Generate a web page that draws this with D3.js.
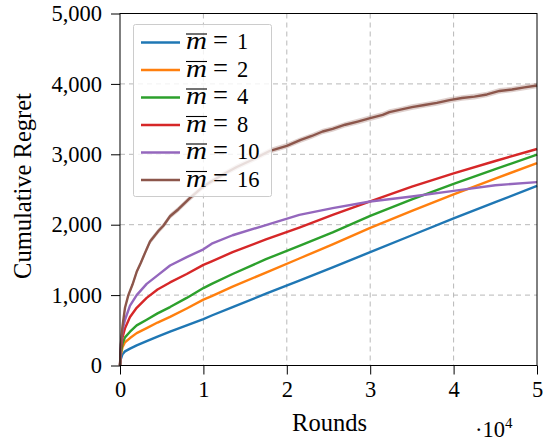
<!DOCTYPE html>
<html>
<head>
<meta charset="utf-8">
<script src="https://cdn.jsdelivr.net/npm/d3@7/dist/d3.min.js"></script>
<style>
  body { margin: 0; background: #fff; }
</style>
</head>
<body>
<svg id="chart" width="550" height="444"></svg>
<script>
// rounds shared by the five smooth curves
const rounds = [0, 100, 300, 600, 1200, 2000, 3200, 4500, 6000, 8000, 10000, 11000, 13500, 17500, 21500, 25500, 30000, 35000, 40000, 45000, 50000]
const regretM1 = [0, 90, 160, 200, 240, 285, 345, 410, 480, 570, 660, 710, 830, 1020, 1205, 1395, 1610, 1850, 2090, 2320, 2550]
const regretM2 = [0, 150, 260, 330, 390, 460, 530, 610, 690, 810, 935, 985, 1120, 1320, 1520, 1720, 1955, 2195, 2430, 2655, 2875]
const regretM4 = [0, 180, 310, 400, 480, 570, 650, 740, 830, 960, 1100, 1160, 1300, 1510, 1700, 1890, 2125, 2360, 2580, 2790, 2995]
const regretM8 = [0, 230, 400, 530, 690, 820, 960, 1080, 1180, 1300, 1430, 1480, 1610, 1790, 1960, 2140, 2330, 2540, 2730, 2905, 3075]
const regretM10 = [0, 280, 500, 650, 850, 1000, 1160, 1280, 1420, 1540, 1650, 1730, 1850, 1995, 2140, 2235, 2330, 2400, 2480, 2560, 2605]

// m = 16 is noisier, so it has its own rounds
const roundsM16 = [0, 100, 300, 600, 1000, 1500, 2000, 2500, 3000, 3600, 4200, 4600, 5200, 6000, 7000, 8400, 10000, 12300, 14000, 16000, 18000, 20000, 21600, 23000, 24300, 25500, 27000, 28500, 30000, 31500, 32300, 33500, 35000, 36500, 38000, 39500, 41000, 42500, 44000, 45500, 47000, 48500, 50000]
const regretM16 = [0, 300, 560, 820, 1000, 1150, 1330, 1460, 1600, 1760, 1850, 1910, 1985, 2120, 2220, 2380, 2545, 2709, 2820, 2930, 3050, 3121, 3200, 3260, 3324, 3360, 3420, 3465, 3514, 3560, 3600, 3630, 3670, 3700, 3730, 3770, 3800, 3820, 3850, 3900, 3920, 3950, 3977]
const spreadM16 = [0, 20, 25, 30, 30, 35, 35, 35, 40, 40, 40, 40, 40, 40, 40, 40, 40, 40, 40, 40, 40, 40, 40, 40, 40, 40, 40, 40, 40, 40, 40, 40, 40, 40, 40, 40, 40, 40, 40, 40, 40, 40, 40]

const seriesNames = ["1", "2", "4", "8", "10", "16"]
const colors = ["#1f77b4", "#ff7f0e", "#2ca02c", "#d62728", "#9467bd", "#8c564b"]

const xTicks = [0, 10000, 20000, 30000, 40000, 50000]
const yTicks = [0, 1000, 2000, 3000, 4000, 5000]

const width = 550
const height = 444
const margin = { left: 120, top: 13.5, right: 13, bottom: 78.5 }
const graphWidth = width - margin.left - margin.right
const graphHeight = height - margin.top - margin.bottom
const serif = '"Liberation Serif", serif'
const fontSize = 22.5
const labelSize = 24.5

const x = d3.scaleLinear().domain([0, 50000]).range([0, graphWidth])
const y = d3.scaleLinear().domain([0, 5000]).range([graphHeight, 0])

const series = [
  { name: seriesNames[0], values: rounds.map((r, i) => [r, regretM1[i]]) },
  { name: seriesNames[1], values: rounds.map((r, i) => [r, regretM2[i]]) },
  { name: seriesNames[2], values: rounds.map((r, i) => [r, regretM4[i]]) },
  { name: seriesNames[3], values: rounds.map((r, i) => [r, regretM8[i]]) },
  { name: seriesNames[4], values: rounds.map((r, i) => [r, regretM10[i]]) },
  { name: seriesNames[5], values: roundsM16.map((r, i) => [r, regretM16[i], spreadM16[i]]) }
]

const svg = d3.select("#chart")
  .attr("font-family", serif)
  .attr("font-size", fontSize)
const g = svg.append("g").attr("transform", `translate(${margin.left}, ${margin.top})`)

// grid
g.append("g")
  .selectAll("line")
  .data(xTicks.slice(1, -1))
  .join("line")
  .attr("x1", d => x(d)).attr("x2", d => x(d))
  .attr("y1", 0).attr("y2", graphHeight)
  .attr("stroke", "#b8b8b8").attr("stroke-width", 1).attr("stroke-dasharray", "5,4")
g.append("g")
  .selectAll("line")
  .data(yTicks.slice(0, -1))
  .join("line")
  .attr("x1", 0).attr("x2", graphWidth)
  .attr("y1", d => y(d)).attr("y2", d => y(d))
  .attr("stroke", "#b8b8b8").attr("stroke-width", 1).attr("stroke-dasharray", "5,4")

// shaded band for m = 16
const band = d3.area()
  .x(d => x(d[0]))
  .y0(d => y(d[1] - d[2]))
  .y1(d => y(d[1] + d[2]))
g.append("path")
  .datum(series[5].values)
  .attr("d", band)
  .attr("fill", colors[5])
  .attr("opacity", 0.28)

const line = d3.line().x(d => x(d[0])).y(d => y(d[1]))
g.append("g")
  .selectAll("path")
  .data(series)
  .join("path")
  .attr("d", d => line(d.values))
  .attr("fill", "none")
  .attr("stroke", (d, i) => colors[i])
  .attr("stroke-width", 2.4)
  .attr("stroke-linejoin", "round")

// axes
const xAxis = g.append("g")
  .attr("transform", `translate(0, ${graphHeight})`)
  .call(d3.axisBottom(x).tickValues(xTicks).tickSize(9).tickPadding(5).tickFormat(d => d / 10000))
const yAxis = g.append("g")
  .call(d3.axisLeft(y).tickValues(yTicks).tickSize(9).tickPadding(9).tickFormat(d3.format(",")))
for (const axis of [xAxis, yAxis]) {
  axis.attr("font-family", serif).attr("font-size", fontSize)
  axis.select(".domain").remove()
  axis.selectAll("line").attr("stroke", "#000").attr("stroke-width", 1)
  axis.selectAll("text").attr("font-family", serif).attr("font-size", fontSize).attr("fill", "#000")
}
xAxis.selectAll("text").attr("dy", "0.78em")

// frame
g.append("rect")
  .attr("x", 0).attr("y", 0)
  .attr("width", graphWidth).attr("height", graphHeight)
  .attr("fill", "none").attr("stroke", "#000").attr("stroke-width", 1)

// axis labels
svg.append("text")
  .attr("x", 329.5).attr("y", 431)
  .attr("text-anchor", "middle")
  .attr("font-family", serif).attr("font-size", labelSize)
  .text("Rounds")
const sci = svg.append("text").attr("x", 475).attr("y", 437)
  .attr("font-family", serif).attr("font-size", fontSize)
sci.append("tspan").text("·10")
sci.append("tspan").attr("font-size", 15).attr("dy", -9).text("4")
svg.append("text")
  .attr("transform", "translate(31, 186) rotate(-90)")
  .attr("text-anchor", "middle")
  .attr("font-family", serif).attr("font-size", labelSize)
  .text("Cumulative Regret")

// legend
const legend = svg.append("g").attr("transform", "translate(133.5, 24.5)")
legend.append("rect")
  .attr("width", 138).attr("height", 172).attr("rx", 2)
  .attr("fill", "#fff").attr("fill-opacity", 0.8)
  .attr("stroke", "#cccccc").attr("stroke-width", 1)
const item = legend.selectAll("g.item")
  .data(series)
  .join("g")
  .attr("class", "item")
  .attr("transform", (d, i) => `translate(0, ${18 + i * 27.5})`)
item.append("line")
  .attr("x1", 7.5).attr("x2", 46.5)
  .attr("stroke", (d, i) => colors[i]).attr("stroke-width", 2.4)
item.append("text")
  .attr("x", 52.5).attr("y", 6.5)
  .attr("textLength", 21).attr("lengthAdjust", "spacingAndGlyphs")
  .attr("font-family", serif).attr("font-size", fontSize + 2).attr("font-style", "italic")
  .text("m")
item.append("line")
  .attr("x1", 52.5).attr("x2", 73.5)
  .attr("y1", -8.5).attr("y2", -8.5)
  .attr("stroke", "#000").attr("stroke-width", 1.1)
item.append("text")
  .attr("x", 79.5).attr("y", 6.5)
  .attr("font-family", serif).attr("font-size", fontSize + 4)
  .text("=")
item.append("text")
  .attr("x", 103.5).attr("y", 6.5)
  .attr("font-family", serif).attr("font-size", fontSize)
  .text(d => d.name)
</script>
</body>
</html>
